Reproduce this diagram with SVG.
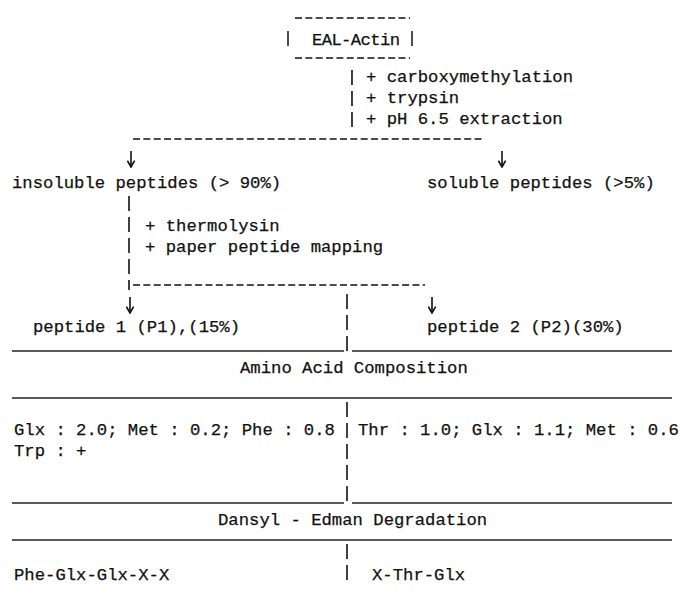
<svg xmlns="http://www.w3.org/2000/svg" width="685" height="600" viewBox="0 0 685 600">
<defs>
<style>
.t{font-family:"Liberation Mono","DejaVu Sans Mono",monospace;font-size:17.25px;fill:#111;stroke:#111;stroke-width:0.25}
.dash{stroke:#111;stroke-width:1.6;stroke-dasharray:7 3.35;fill:none}
.pipe{stroke:#111;stroke-width:1.6;stroke-dasharray:15 6;fill:none}
.solid{stroke:#222;stroke-width:1.3;fill:none}
.arr{stroke:#111;stroke-width:1.6;fill:none;marker-end:url(#ah)}
</style>
<marker id="ah" viewBox="0 0 10 10" refX="9" refY="5" markerWidth="9" markerHeight="9" orient="auto" markerUnits="userSpaceOnUse">
<path d="M2,1 L9,5 L2,9" fill="none" stroke="#111" stroke-width="1.8"/>
</marker>
</defs>
<rect width="685" height="600" fill="#fff"/>

<g id="connectors">
<!-- box around EAL-Actin -->
<line class="dash" x1="295" y1="18" x2="410" y2="18"/>
<line class="dash" x1="295" y1="58" x2="410" y2="58"/>
<line class="solid" x1="288" y1="31" x2="288" y2="46" style="stroke-width:1.6"/>
<line class="solid" x1="412" y1="31" x2="412" y2="46" style="stroke-width:1.6"/>
<!-- first step -->
<line class="pipe" x1="352" y1="70" x2="352" y2="127"/>
<line class="dash" x1="133" y1="139" x2="485" y2="139"/>
<line class="arr" x1="131" y1="151" x2="131" y2="167"/>
<line class="arr" x1="502" y1="151" x2="502" y2="167"/>
<!-- second step -->
<line class="pipe" x1="129" y1="196" x2="129" y2="290"/>
<line class="dash" x1="133" y1="285" x2="425" y2="285"/>
<line class="arr" x1="130" y1="297" x2="130" y2="313"/>
<line class="arr" x1="432" y1="297" x2="432" y2="313"/>
<line class="pipe" x1="347" y1="294" x2="347" y2="351"/>
<!-- table -->
<line class="solid" x1="12" y1="351" x2="344" y2="351"/>
<line class="solid" x1="352" y1="351" x2="672" y2="351"/>
<line class="solid" x1="12" y1="398" x2="672" y2="398"/>
<line class="pipe" x1="347" y1="402" x2="347" y2="504"/>
<line class="solid" x1="12" y1="503" x2="344" y2="503"/>
<line class="solid" x1="352" y1="503" x2="672" y2="503"/>
<line class="solid" x1="12" y1="540" x2="672" y2="540"/>
<line class="pipe" x1="347" y1="544" x2="347" y2="581"/>
</g>

<g id="node-eal-actin"><text class="t" x="312" y="45" textLength="88">EAL-Actin</text></g>
<g id="label-step1">
<text class="t" x="366" y="82">+ carboxymethylation</text>
<text class="t" x="366" y="103">+ trypsin</text>
<text class="t" x="366" y="124">+ pH 6.5 extraction</text>
</g>
<g id="node-insoluble"><text class="t" x="12" y="188">insoluble peptides (&gt; 90%)</text></g>
<g id="node-soluble"><text class="t" x="427" y="188">soluble peptides (&gt;5%)</text></g>
<g id="label-step2">
<text class="t" x="145" y="231">+ thermolysin</text>
<text class="t" x="145" y="252">+ paper peptide mapping</text>
</g>
<g id="node-peptide1"><text class="t" x="33" y="332">peptide 1 (P1),(15%)</text></g>
<g id="node-peptide2"><text class="t" x="427" y="332">peptide 2 (P2)(30%)</text></g>
<g id="header-aac"><text class="t" x="240" y="373">Amino Acid Composition</text></g>
<g id="aac-p1">
<text class="t" x="14" y="435">Glx : 2.0; Met : 0.2; Phe : 0.8</text>
<text class="t" x="14" y="456">Trp : +</text>
</g>
<g id="aac-p2"><text class="t" x="358" y="435">Thr : 1.0; Glx : 1.1; Met : 0.6</text></g>
<g id="header-edman"><text class="t" x="218" y="525">Dansyl - Edman Degradation</text></g>
<g id="edman-p1"><text class="t" x="14" y="580">Phe-Glx-Glx-X-X</text></g>
<g id="edman-p2"><text class="t" x="372" y="580">X-Thr-Glx</text></g>
</svg>
